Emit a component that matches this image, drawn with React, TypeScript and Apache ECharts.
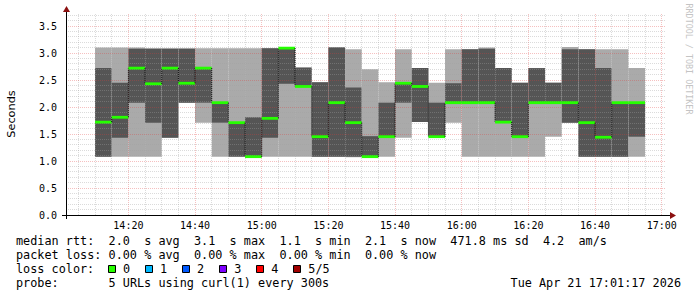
import React, { useEffect, useRef } from "react";
import * as echarts from "echarts";

// ---- data ----
const columnEnds = [
  "14:15", "14:20", "14:25", "14:30", "14:35", "14:40", "14:45", "14:50", "14:55",
  "15:00", "15:05", "15:10", "15:15", "15:20", "15:25", "15:30", "15:35", "15:40",
  "15:45", "15:50", "15:55", "16:00", "16:05", "16:10", "16:15", "16:20", "16:25",
  "16:30", "16:35", "16:40", "16:45", "16:50", "16:55",
];
const ping1 = [1.08, 1.08, 1.08, 1.08, 1.43, 2.08, 1.71, 1.08, 1.08, 1.08, 1.08, 1.08, 1.08, 1.08, 1.08, 1.07, 1.08, 1.08, 1.43, 1.72, 1.45, 1.71, 1.08, 1.08, 1.08, 1.08, 1.08, 1.45, 1.71, 1.08, 1.08, 1.08, 1.08];
const ping2 = [1.08, 1.43, 2.08, 1.71, 1.43, 2.08, 2.08, 1.71, 1.08, 1.08, 1.43, 2.43, 2.38, 1.08, 1.08, 1.08, 1.08, 1.45, 2.08, 1.72, 1.45, 2.08, 2.08, 2.08, 1.71, 1.45, 2.08, 2.08, 1.71, 1.08, 1.08, 1.08, 1.45];
const medianRtt = [1.72, 1.81, 2.72, 2.43, 2.72, 2.44, 2.72, 2.08, 1.71, 1.08, 1.79, 3.09, 2.38, 1.45, 2.08, 1.71, 1.08, 1.45, 2.44, 2.38, 1.45, 2.08, 2.08, 2.08, 1.72, 1.45, 2.08, 2.08, 2.08, 1.71, 1.44, 2.08, 2.08];
const ping4 = [2.72, 2.45, 3.08, 3.08, 3.08, 3.08, 2.72, 2.08, 1.71, 1.81, 3.09, 3.09, 2.73, 2.46, 3.10, 2.36, 1.46, 2.08, 2.46, 2.72, 2.08, 2.44, 3.07, 3.08, 2.72, 2.45, 2.72, 2.45, 3.07, 3.07, 2.72, 2.08, 2.08];
const ping5 = [3.10, 3.10, 3.10, 3.09, 3.09, 3.09, 3.09, 3.09, 3.09, 3.09, 3.09, 3.09, 2.73, 2.46, 3.11, 3.07, 2.70, 2.46, 3.07, 2.72, 2.45, 3.07, 3.07, 3.10, 2.72, 2.45, 2.72, 2.45, 3.11, 3.07, 3.07, 3.07, 2.72];

const startTime = "14:01:17";
const endTime = "17:01:17";
const xTickLabels = ["14:20", "14:40", "15:00", "15:20", "15:40", "16:00", "16:20", "16:40", "17:00"];
const yTickLabels = ["0.0", "0.5", "1.0", "1.5", "2.0", "2.5", "3.0", "3.5"];

const legendLines = [
  "median rtt:  2.0  s avg  3.1  s max  1.1  s min  2.1  s now  471.8 ms sd  4.2  am/s",
  "packet loss: 0.00 % avg  0.00 % max  0.00 % min  0.00 % now",
  "loss color:",
  "probe:       5 URLs using curl(1) every 300s",
];
const lossLabels = ["0", "1", "2", "3", "4", "5/5"];
const lossColors = ["#26ff00", "#00b8ff", "#0059ff", "#7e00ff", "#ff0000", "#a00000"];
const dateText = "Tue Apr 21 17:01:17 2026";
const yAxisName = "Seconds";
const watermark = "RRDTOOL / TOBI OETIKER";

// ---- layout / style ----
const LEFT = 66;
const TOP = 14;
const W = 600;
const H = 201;
const PX_PER_UNIT = 54;
const YMAX = H / PX_PER_UNIT;
const LIGHT = "#aaaaaa";
const DARK = "#555555";
const MONO = "DejaVu Sans Mono";
const CW = 7.12;

const toMin = (t: string) => {
  const p = t.split(":").map(Number);
  return (p[0] - 14) * 60 + p[1] + (p[2] || 0) / 60;
};
const fmtMin = (m: number) => {
  const h = 14 + Math.floor(Math.round(m) / 60);
  const mm = Math.round(m) % 60;
  return `${h}:${mm < 10 ? "0" : ""}${mm}`;
};

export default function App() {
  const ref = useRef<HTMLDivElement>(null);
  useEffect(() => {
    if (!ref.current) return;
    const chart = echarts.init(ref.current, undefined, { renderer: "svg" });
    const xmin = toMin(startTime);
    const xmax = toMin(endTime);

    const colData = columnEnds.map((t, i) => {
      const e = toMin(t);
      return [e - 5, e, ping1[i], ping2[i], medianRtt[i], ping4[i], ping5[i]];
    });
    const medData = columnEnds.map((t, i) => {
      const e = toMin(t);
      return [e - 5, e, medianRtt[i], i > 0 ? medianRtt[i - 1] : medianRtt[i]];
    });

    const gridData: number[][] = [];
    for (let m = Math.ceil(xmin / 5) * 5; m <= xmax; m += 5) gridData.push([0, m, m % 20 === 0 ? 1 : 0]);
    for (let k = 1; k / 10 <= YMAX; k++) gridData.push([1, k / 10, k % 5 === 0 ? 1 : 0]);

    const tokens = (line: string, y: number) => {
      const out: any[] = [];
      const re = /\S+/g;
      let mt: RegExpExecArray | null;
      while ((mt = re.exec(line))) {
        out.push({
          type: "text",
          x: 16 + mt.index * CW,
          y,
          style: { text: mt[0], font: `11.8px "${MONO}"`, fill: "#000", textVerticalAlign: "middle" },
        });
      }
      return out;
    };
    const lineY = [241, 255, 269, 283];
    const graphics: any[] = [];
    legendLines.forEach((l, i) => graphics.push(...tokens(l, lineY[i])));
    lossLabels.forEach((lab, i) => {
      const bx = 108 + i * 37.06;
      graphics.push({
        type: "rect",
        shape: { x: Math.round(bx) + 0.5, y: 265.5, width: 7, height: 7 },
        style: { fill: lossColors[i], stroke: "#000", lineWidth: 1 },
      });
      graphics.push({
        type: "text",
        x: bx + 15,
        y: lineY[2],
        style: { text: lab, font: `11.8px "${MONO}"`, fill: "#000", textVerticalAlign: "middle" },
      });
    });
    graphics.push({
      type: "text",
      x: 681,
      y: lineY[3],
      style: { text: dateText, font: `11.8px "${MONO}"`, fill: "#000", textAlign: "right", textVerticalAlign: "middle" },
    });
    graphics.push({
      type: "text",
      x: 11,
      y: 114,
      rotation: Math.PI / 2,
      style: { text: yAxisName, font: `11.3px "DejaVu Sans"`, fill: "#000", textAlign: "center", textVerticalAlign: "middle" },
    });
    graphics.push({
      type: "text",
      x: 688.5,
      y: 59,
      rotation: -Math.PI / 2,
      style: { text: watermark, font: `8.4px "${MONO}"`, fill: "#c4c4c4", textAlign: "center", textVerticalAlign: "middle" },
    });
    // axis lines (rrdtool style, extended by 4px) and arrows
    const ax = LEFT + 0.5;
    const ay = TOP + H + 0.5;
    graphics.push({ type: "line", z: 10, shape: { x1: LEFT - 4, y1: ay, x2: LEFT + W + 5, y2: ay }, style: { stroke: "#000", lineWidth: 1 } });
    graphics.push({ type: "line", z: 10, shape: { x1: ax, y1: TOP + H + 4, x2: ax, y2: TOP - 3 }, style: { stroke: "#000", lineWidth: 1 } });
    graphics.push({
      type: "polygon", z: 10,
      shape: { points: [[ax - 3.5, TOP - 2], [ax + 3.5, TOP - 2], [ax, TOP - 8]] },
      style: { fill: "#8b1010" },
    });
    graphics.push({
      type: "polygon", z: 10,
      shape: { points: [[LEFT + W + 4, ay - 3.5], [LEFT + W + 4, ay + 3.5], [LEFT + W + 10, ay]] },
      style: { fill: "#8b1010" },
    });

    chart.setOption({
      animation: false,
      backgroundColor: "#ffffff",
      grid: { left: LEFT, top: TOP, width: W, height: H, containLabel: false, outerBoundsMode: "none" },
      xAxis: {
        type: "value",
        min: xmin,
        max: xmax,
        axisLine: { show: false },
        axisTick: { show: false },
        splitLine: { show: false },
        axisLabel: {
          customValues: xTickLabels.map(toMin),
          formatter: (v: number) => fmtMin(v),
          fontFamily: MONO,
          fontSize: 10,
          color: "#000",
          margin: 5,
        },
      },
      yAxis: {
        type: "value",
        min: 0,
        max: YMAX,
        axisLine: { show: false },
        axisTick: { show: false },
        splitLine: { show: false },
        axisLabel: {
          customValues: yTickLabels.map(Number),
          formatter: (v: number) => v.toFixed(1),
          fontFamily: MONO,
          fontSize: 10,
          color: "#000",
          margin: 9,
        },
      },
      graphic: graphics,
      series: [
        {
          type: "custom",
          z: 2,
          silent: true,
          data: colData,
          renderItem: (params: any, api: any) => {
            const s = api.value(0), e = api.value(1);
            const a = api.coord([s, api.value(2)]);
            const b = api.coord([e, api.value(6)]);
            const c = api.coord([s, api.value(3)]);
            const d = api.coord([e, api.value(5)]);
            return {
              type: "group",
              children: [
                { type: "rect", shape: { x: a[0], y: b[1], width: b[0] - a[0], height: a[1] - b[1] }, style: { fill: LIGHT } },
                { type: "rect", shape: { x: c[0], y: d[1], width: d[0] - c[0], height: c[1] - d[1] }, style: { fill: DARK } },
              ],
            };
          },
        },
        {
          type: "custom",
          z: 3,
          silent: true,
          data: gridData,
          renderItem: (params: any, api: any) => {
            const cs = params.coordSys;
            const vert = api.value(0) === 0;
            const major = api.value(2) === 1;
            const stroke = major ? "rgba(225,60,60,0.32)" : "rgba(160,160,160,0.38)";
            if (vert) {
              const x = Math.floor(api.coord([api.value(1), 0])[0]) + 0.5;
              return { type: "line", shape: { x1: x, y1: cs.y, x2: x, y2: cs.y + cs.height }, style: { stroke, lineWidth: 1, lineDash: [1, 1] } };
            }
            const y = Math.floor(api.coord([xmin, api.value(1)])[1]) + 0.5;
            return { type: "line", shape: { x1: cs.x, y1: y, x2: cs.x + cs.width, y2: y }, style: { stroke, lineWidth: 1, lineDash: [1, 1] } };
          },
        },
        {
          type: "custom",
          z: 4,
          silent: true,
          data: medData,
          renderItem: (params: any, api: any) => {
            const s = api.value(0), e = api.value(1);
            const m0 = api.coord([s, api.value(2)]);
            const m1 = api.coord([e, api.value(2)]);
            const p = api.coord([s, api.value(3)]);
            const children: any[] = [];
            if (params.dataIndex > 0) {
              children.push({
                type: "line",
                shape: { x1: m0[0], y1: p[1], x2: m0[0], y2: m0[1] },
                style: { stroke: "#000", lineWidth: 1, lineDash: [1, 1] },
              });
            }
            children.push({
              type: "line",
              shape: { x1: m0[0], y1: m0[1], x2: m1[0], y2: m1[1] },
              style: { stroke: lossColors[0], lineWidth: 2.8 },
            });
            return { type: "group", children };
          },
        },
      ],
    });
    return () => chart.dispose();
  }, []);
  return <div ref={ref} style={{ position: "absolute", left: 0, top: 0, width: 697, height: 297 }} />;
}
